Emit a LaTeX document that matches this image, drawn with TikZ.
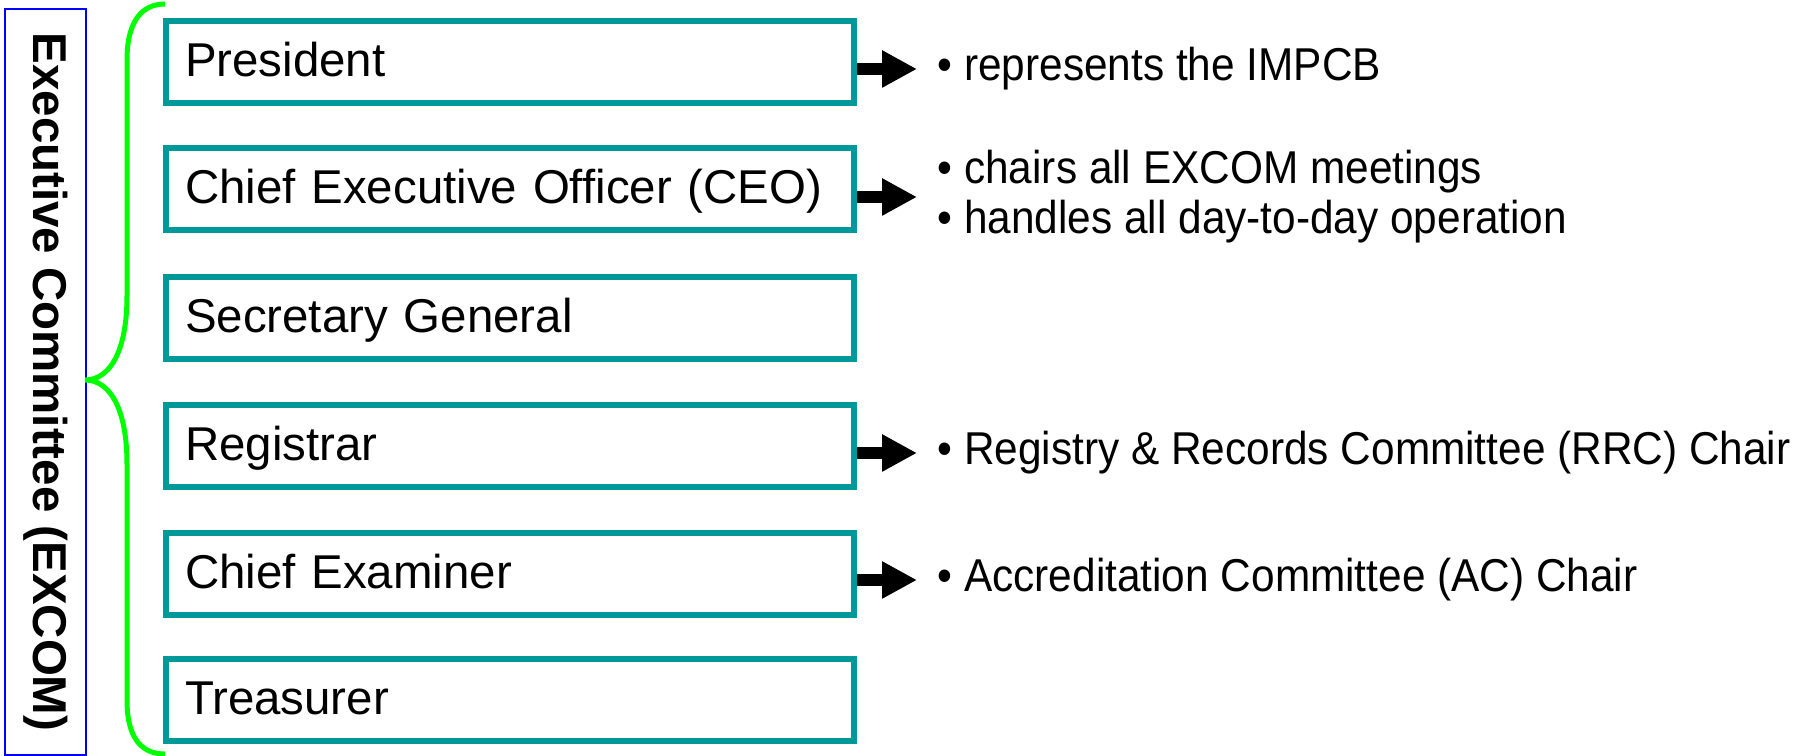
\documentclass[tikz,border=0pt]{standalone}
\usepackage{fontspec}
\setmainfont{Liberation Sans}
\newfontfamily\notefont[FakeStretch=0.92]{Liberation Sans}
\usetikzlibrary{arrows.meta,positioning}
\definecolor{boxteal}{RGB}{0,153,153}
\definecolor{bracegreen}{RGB}{0,255,0}

\begin{document}
\begin{tikzpicture}[scale=1,
                    office/.style={draw=boxteal, line width=0.06cm, inner xsep=0.19cm, inner ysep=0pt,
                                   text width=6.50cm, align=left, minimum height=0.82cm,
                                   text height=0.40cm, text depth=0.10cm,
                                   font=\fontsize{13.5}{16}\selectfont},
                    duty/.style={anchor=west, inner sep=0pt, align=left,
                                 font=\notefont\fontsize{13.1}{14.2}\selectfont},
                    pointer/.style={line width=0.12cm, -{Triangle[length=0.35cm,width=0.35cm]}, shorten >=0.20cm}]
                    % \helpgrid{18}{7}
                    \useasboundingbox (0,0) rectangle (18.2,7.56);

                    \node[draw=blue, line width=0.025cm, rotate=-90, inner sep=0pt,
                          minimum width=7.46cm, minimum height=0.81cm,
                          font=\bfseries\fontsize{13.5}{16}\selectfont] (excom) at (0.455,3.74) {Executive Committee (EXCOM)};

                    \draw[bracegreen, line width=0.05cm]
                        (1.65,7.52) .. controls (1.42,7.52) and (1.27,7.35) .. (1.27,6.96)
                        -- (1.27,4.60) .. controls (1.27,4.05) and (1.10,3.76) .. (0.85,3.76)
                        .. controls (1.10,3.76) and (1.27,3.47) .. (1.27,2.92)
                        -- (1.27,0.56) .. controls (1.27,0.17) and (1.42,0.02) .. (1.65,0.02);

                    \node[office] (pres)    at (5.10,6.94) {President};
                    \node[office] (ceo)     at (5.10,5.67) {Chief Executive Officer (CEO)};
                    \node[office] (secgen)  at (5.10,4.38) {Secretary General};
                    \node[office] (reg)     at (5.10,3.10) {Registrar};
                    \node[office] (chiefex) at (5.10,1.82) {Chief Examiner};
                    \node[office] (treas)   at (5.10,0.56) {Treasurer};

                    \node[duty] (presduty)    at (9.37,6.87) {• represents the IMPCB};
                    \node[duty] (ceoduty)     at (9.37,5.59) {• chairs all EXCOM meetings\\• handles all day-to-day operation};
                    \node[duty] (regduty)     at (9.37,3.03) {• Registry \& Records Committee (RRC) Chair};
                    \node[duty] (chiefexduty) at (9.37,1.76) {• Accreditation Committee (AC) Chair};

                    \draw[pointer] (pres.east |- presduty.west) -- (presduty.west);
                    \draw[pointer] (ceo.east |- ceoduty.west) -- (ceoduty.west);
                    \draw[pointer] (reg.east |- regduty.west) -- (regduty.west);
                    \draw[pointer] (chiefex.east |- chiefexduty.west) -- (chiefexduty.west);

                \end{tikzpicture}
\end{document}
